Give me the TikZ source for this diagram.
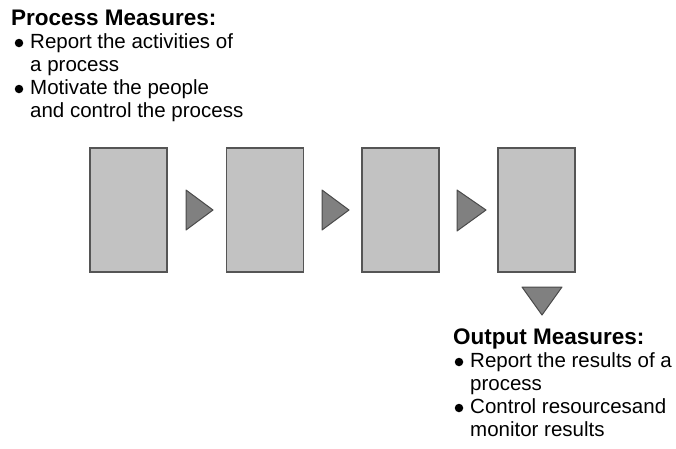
\documentclass[tikz,border=0pt]{standalone}
\usepackage{fontspec}
\setmainfont{Liberation Sans}
\definecolor{boxfill}{HTML}{C2C2C2}
\definecolor{boxedge}{HTML}{555555}
\definecolor{trifill}{HTML}{808080}
\definecolor{triedge}{HTML}{4A4A4A}
\begin{document}
\begin{tikzpicture}[x=1pt,y=-1pt,
  stage/.style={draw=boxedge,fill=boxfill,line width=1.3pt,minimum width=77pt,minimum height=124pt,inner sep=0pt},
  marker/.style={draw=triedge,fill=trifill,line width=1pt,line join=round},
  head/.style={anchor=base west,inner sep=0pt,font=\fontsize{22.5}{27}\selectfont\bfseries},
  item/.style={anchor=base west,inner sep=0pt,font=\fontsize{20.5}{23}\selectfont},
  dot/.style={circle,fill=black,inner sep=0pt,minimum size=8.5pt}]
\useasboundingbox (0,0) rectangle (676,448);

% process stages
\node[stage] (s1) at (128.5,210) {};
\node[stage] (s2) at (265,210) {};
\node[stage] (s3) at (400.5,210) {};
\node[stage] (s4) at (536.5,210) {};

% flow markers between stages
\draw[marker] (186,190) -- (213,210) -- (186,230) -- cycle;
\draw[marker] (322,190) -- (349,210) -- (322,230) -- cycle;
\draw[marker] (457,190) -- (486,210) -- (457,231) -- cycle;
\draw[marker] (522,287) -- (562,287) -- (542,315) -- cycle;

% process measures
\node[head] (ph) at (11,25) {Process Measures:};
\node[dot] (pb1) at (19,43) {};
\node[item] (p1) at (30,48) {Report the activities of};
\node[item] (p2) at (30,71) {a process};
\node[dot] (pb2) at (19,89) {};
\node[item] (p3) at (30,94) {Motivate the people};
\node[item] (p4) at (30,117) {and control the process};

% output measures
\node[head] (oh) at (453,344) {Output Measures:};
\node[dot] (ob1) at (459,362) {};
\node[item] (o1) at (470,367) {Report the results of a};
\node[item] (o2) at (470,390) {process};
\node[dot] (ob2) at (459,408) {};
\node[item] (o3) at (470,413) {Control resourcesand};
\node[item] (o4) at (470,436) {monitor results};
\end{tikzpicture}
\end{document}
